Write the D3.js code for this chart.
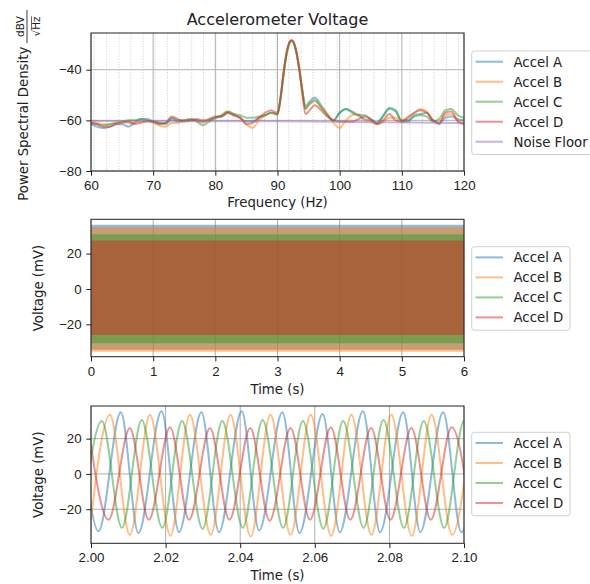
<!DOCTYPE html>
<html>
<head>
<meta charset="utf-8">
<title>Accelerometer Voltage</title>
<script src="https://d3js.org/d3.v7.min.js"></script>
<style>
    body { margin: 0; background: #fff; }
    svg { font-family: "DejaVu Sans", sans-serif; }
    .tick text { font-size: 13.3px; fill: #222; }
    .tick line { stroke: #222; }
    .lbl { font-size: 13.3px; fill: #222; }
</style>
</head>
<body>
<svg id="chart" width="590" height="584"></svg>
<script>
// ---- data ----
var names = ["Accel A", "Accel B", "Accel C", "Accel D"];
var colors = ["#1f77b4", "#ff7f0e", "#2ca02c", "#d62728"];
var floorColor = "#9467bd";

// panel 1: power spectral density (dBV/sqrt(Hz))
var freqs = [60,61,62,63,64,65,66,67,68,69,70,71,72,73,74,75,76,77,78,79,80,81,82,83,84,85,86,87,88,89,
    90,90.5,91,91.5,92,92.3,92.6,93,93.5,94,94.5,
    95,96,97,98,99,100,101,102,103,104,105,106,107,108,109,110,111,112,113,114,115,116,117,118,119,120];
var psdA = [-61.5,-62.5,-63,-62.5,-61.5,-61.5,-62.5,-61,-59.5,-59.5,
    -60.5,-61,-61.5,-59.5,-60.5,-60,-60,-60,-60.5,-60,
    -59,-58.5,-57,-58,-59,-60.5,-60.5,-59,-58,-57,
    -57.5,-51,-41,-33,-29,-28.5,-29.3,-32.5,-39.5,-48,-54.5,
    -53,-51,-54,-57.5,-60,-57,-55.5,-56.5,-58,-59.5,-60,-61,-58,-55,-56,-60.5,-60.5,-58,-57.5,-57,-60,-61.5,-59,-58.5,-59.5,-60];
var psdB = [-60.5,-61,-61.5,-61.5,-61,-60.5,-61,-61,-60.5,-60,
    -61,-62,-62.5,-61,-61,-60,-59.5,-60,-61,-59.5,
    -59,-58,-56.5,-57.5,-59,-61.5,-63,-60,-58,-57,
    -57.5,-51,-41,-33,-29,-28.5,-29.3,-32.5,-39.5,-48.5,-55.5,
    -54,-52.5,-54.5,-57.5,-61,-63,-60,-58,-57.5,-60,-60.5,-61.5,-60.5,-59,-59,-60,-58.5,-57,-55.5,-56.5,-60,-61,-58,-57.5,-60,-61];
var psdC = [-61,-61.5,-62,-61.5,-61,-60.5,-60,-60,-59.5,-60,
    -60.5,-61,-61,-59,-60,-60,-59.5,-60.5,-62,-60.5,
    -59,-58,-56.5,-57.5,-58,-59,-59,-58.5,-58,-57,
    -57.8,-51.5,-41.5,-33.5,-29.2,-28.7,-29.5,-32.8,-40,-48.5,-55.5,
    -54,-52,-55,-58,-60,-57,-55.5,-57,-58,-58,-59.5,-61,-58.5,-55.5,-56.5,-60,-60,-58.5,-58,-58.5,-60.5,-59.5,-56,-55.5,-58,-59];
var psdD = [-61,-61.5,-62.5,-62.5,-61.5,-61,-60.5,-61.5,-61,-60.5,
    -60.5,-61.5,-61,-58.5,-59.5,-60.5,-60,-59.5,-60,-59.5,
    -58.5,-58.5,-57,-58,-59,-61.5,-61,-59,-57,-56,
    -57.3,-50.5,-40.5,-32.8,-28.8,-28.3,-29.1,-32.5,-39.8,-49.5,-57.5,
    -56.5,-54,-56,-58.5,-60,-60.5,-60.5,-60.5,-59.5,-58.5,-59.5,-61.5,-60,-57.5,-60,-60.5,-59,-57,-56,-57,-60,-61,-57,-56.5,-60.5,-61.5];
var floorFreqs = [60, 75, 90, 105, 120];
var floorPsd = [-60.3, -60.4, -60.4, -60.7, -61.0];
var freqTicks = [60, 70, 80, 90, 100, 110, 120];
var psdTicks = [-80, -60, -40];
var binGrid = [60.5, 62.5, 64.5, 66.4, 68.4, 70.3, 72.3, 74.2, 76.2, 78.1, 80.1, 82.0, 84.0, 86.0, 87.9,
    89.8, 91.8, 93.8, 95.7, 97.7, 99.6, 101.6, 103.5, 105.5, 107.4, 109.4, 111.3, 113.3, 115.2, 117.2, 119.1];

// panel 2: full 6 s record, drawn as the envelope each trace fills
var spanTimes = [0, 6];
var envMin = [-34.3, -35.5, -30.7, -26.0];
var envMax = [36.3, 35.0, 31.0, 27.4];
var timeTicks = [0, 1, 2, 3, 4, 5, 6];
var voltTicks = [-20, 0, 20];

// panel 3: zoom 2.00 - 2.10 s, peaks and troughs of each trace (s, mV)
var tA = [1.9971,2.0020,2.0080,2.0127,2.0189,2.0236,2.0296,2.0343,2.0404,2.0451,2.0513,2.0559,2.0621,2.0667,2.0729,2.0775,2.0837,2.0883,2.0944,2.0993,2.1048];
var vA = [35,-32.5,35,-33.5,35.5,-33,35,-33,35.5,-32,35,-33.5,34,-33,35.5,-33,35,-33,35,-33,35];
var tB = [1.9995,2.0051,2.0104,2.0158,2.0213,2.0265,2.0321,2.0374,2.0428,2.0481,2.0535,2.0589,2.0644,2.0698,2.0752,2.0805,2.0860,2.0913,2.0968,2.1021];
var vB = [-34.5,33.5,-34.5,33.5,-35,33.5,-34.5,33.5,-35.5,33.5,-34.5,33.5,-35,33.5,-34.5,33.5,-35,33.5,-34.5,33.5];
var tC = [1.9975,2.0029,2.0083,2.0136,2.0191,2.0244,2.0299,2.0352,2.0407,2.0460,2.0515,2.0568,2.0623,2.0676,2.0731,2.0784,2.0839,2.0892,2.0947,2.1000,2.1054];
var vC = [-30.5,30,-30.5,30.5,-30.5,30,-31,30,-30.5,30.5,-30.5,30,-31,30,-30.5,30.5,-30.5,30,-30.5,30,-30.5];
var tD = [1.9993,2.0047,2.0104,2.0155,2.0212,2.0263,2.0319,2.0371,2.0427,2.0479,2.0535,2.0587,2.0643,2.0695,2.0751,2.0803,2.0859,2.0911,2.0967,2.1019];
var vD = [26,-26,26,-26,26.5,-26,26,-26,26,-26.5,26,-26,26.5,-26,26,-26,26,-26,26.5,-26];
var zoomTicks = [2.00, 2.02, 2.04, 2.06, 2.08, 2.10];

// ---- layout ----
var svg = d3.select("#chart");
var left = 91, right = 464;
var tickLen = 4.7;

function frame(g, x, y, xTicks, yTicks, gridX, gridY) {
    if (gridX) g.append("g").selectAll("line").data(xTicks).join("line")
        .attr("x1", x).attr("x2", x).attr("y1", y.range()[1]).attr("y2", y.range()[0])
        .attr("stroke", "#b0b0b0").attr("stroke-width", 1);
    if (gridY) g.append("g").selectAll("line").data(yTicks).join("line")
        .attr("y1", y).attr("y2", y).attr("x1", x.range()[0]).attr("x2", x.range()[1])
        .attr("stroke", "#b0b0b0").attr("stroke-width", 1);
}

function axes(g, x, y, xTicks, yTicks, xFmt) {
    var xa = g.append("g").attr("transform", "translate(0," + y.range()[0] + ")")
        .call(d3.axisBottom(x).tickValues(xTicks).tickFormat(xFmt).tickSize(tickLen).tickPadding(4.7).tickSizeOuter(0));
    var ya = g.append("g").attr("transform", "translate(" + x.range()[0] + ",0)")
        .call(d3.axisLeft(y).tickValues(yTicks).tickFormat(d3.format("d")).tickSize(tickLen).tickPadding(4.7).tickSizeOuter(0));
    xa.select(".domain").remove();
    ya.select(".domain").remove();
    g.selectAll(".tick text").attr("font-family", null).attr("font-size", null);
    g.append("rect")
        .attr("x", x.range()[0]).attr("y", y.range()[1])
        .attr("width", x.range()[1] - x.range()[0]).attr("height", y.range()[0] - y.range()[1])
        .attr("fill", "none").attr("stroke", "#222").attr("stroke-width", 1);
}

function legend(top, labels, cols, boxW) {
    var g = svg.append("g");
    g.append("rect").attr("x", 471.7).attr("y", top).attr("rx", 2.7)
        .attr("width", boxW).attr("height", labels.length * 20 + 3.5)
        .attr("fill", "#fff").attr("fill-opacity", 0.8).attr("stroke", "#d0d0d0");
    labels.forEach(function(name, i) {
        var cy = top + 10.7 + i * 20;
        g.append("line").attr("x1", 475.5).attr("x2", 503).attr("y1", cy).attr("y2", cy)
            .attr("stroke", cols[i]).attr("stroke-width", 2).attr("stroke-opacity", 0.5);
        g.append("text").attr("class", "lbl").attr("x", 513.5).attr("y", cy + 4.8).text(name);
    });
}

function clip(id, x, y) {
    svg.append("clipPath").attr("id", id).append("rect")
        .attr("x", x.range()[0]).attr("y", y.range()[1])
        .attr("width", x.range()[1] - x.range()[0]).attr("height", y.range()[0] - y.range()[1]);
}

// ---- panel 1 ----
var x1 = d3.scaleLinear().domain([60, 120]).range([left, right]);
var y1 = d3.scaleLinear().domain([-80, -25.5]).range([171, 33]);
var p1 = svg.append("g");
p1.append("g").selectAll("line").data(binGrid).join("line")
    .attr("x1", x1).attr("x2", x1).attr("y1", 33).attr("y2", 171)
    .attr("stroke", "#c8c8c8").attr("stroke-width", 0.9).attr("stroke-dasharray", "1,1.6");
frame(p1, x1, y1, freqTicks, psdTicks, true, true);
clip("c1", x1, y1);
var psdLine = d3.line().x(function(d) { return x1(d[0]); }).y(function(d) { return y1(d[1]); })
    .curve(d3.curveMonotoneX);
var psd = [psdA, psdB, psdC, psdD];
psd.forEach(function(vals, i) {
    p1.append("path").attr("clip-path", "url(#c1)")
        .attr("d", psdLine(d3.zip(freqs, vals)))
        .attr("fill", "none").attr("stroke", colors[i]).attr("stroke-width", 2).attr("stroke-opacity", 0.5);
});
p1.append("path").attr("clip-path", "url(#c1)")
    .attr("d", psdLine(d3.zip(floorFreqs, floorPsd)))
    .attr("fill", "none").attr("stroke", floorColor).attr("stroke-width", 2).attr("stroke-opacity", 0.5);
axes(p1, x1, y1, freqTicks, psdTicks, d3.format("d"));
svg.append("text").attr("x", (left + right) / 2).attr("y", 25).attr("text-anchor", "middle")
    .attr("font-size", 16).attr("fill", "#222").text("Accelerometer Voltage");
svg.append("text").attr("class", "lbl").attr("x", (left + right) / 2).attr("y", 207)
    .attr("text-anchor", "middle").text("Frequency (Hz)");

// y label with the dBV / sqrt(Hz) fraction
var yl = svg.append("g").attr("transform", "translate(28.3,102) rotate(-90)");
yl.append("text").attr("class", "lbl").attr("x", 55.3).attr("y", 0).attr("text-anchor", "end")
    .text("Power Spectral Density");
yl.append("line").attr("x1", 59).attr("x2", 92).attr("y1", -1.3).attr("y2", -1.3)
    .attr("stroke", "#222").attr("stroke-width", 0.9);
yl.append("text").attr("x", 75.5).attr("y", -4.3).attr("text-anchor", "middle")
    .attr("font-size", 10.5).attr("fill", "#222").text("dBV");
var hz = yl.append("text").attr("y", 12.2).attr("font-size", 10.5).attr("fill", "#222").text("Hz");
var rad = yl.append("text").attr("y", 12.2).attr("font-size", 10.5).attr("fill", "#222")
    .attr("text-anchor", "end").text("\u221A");
var hzW = hz.node().getComputedTextLength(), radW = rad.node().getComputedTextLength();
var u0 = 75.5 - (hzW + radW) / 2 + radW;
hz.attr("x", u0);
rad.attr("x", u0);
yl.append("line").attr("x1", u0).attr("x2", u0 + hzW).attr("y1", 3.2).attr("y2", 3.2)
    .attr("stroke", "#222").attr("stroke-width", 0.7);

legend(51, names.concat(["Noise Floor"]), colors.concat([floorColor]), 125);

// ---- panel 2 ----
var x2 = d3.scaleLinear().domain([0, 6]).range([left, right]);
var y2 = d3.scaleLinear().domain([-38.3, 39.4]).range([356.7, 219.3]);
var p2 = svg.append("g");
frame(p2, x2, y2, timeTicks, voltTicks, true, false);
var band = d3.area().x(function(d) { return x2(d); });
names.forEach(function(n, i) {
    p2.append("path")
        .attr("d", band.y0(y2(envMin[i])).y1(y2(envMax[i]))(spanTimes))
        .attr("fill", colors[i]).attr("fill-opacity", 0.5);
});
axes(p2, x2, y2, timeTicks, voltTicks, d3.format("d"));
svg.append("text").attr("class", "lbl").attr("x", (left + right) / 2).attr("y", 393.5)
    .attr("text-anchor", "middle").text("Time (s)");
svg.append("text").attr("class", "lbl").attr("transform", "translate(43," + (219.3 + 356.7) / 2 + ") rotate(-90)")
    .attr("text-anchor", "middle").text("Voltage (mV)");
legend(246.7, names, colors, 98.3);

// ---- panel 3 ----
var x3 = d3.scaleLinear().domain([2.0, 2.1]).range([left, right]);
var y3 = d3.scaleLinear().domain([-39.3, 38.5]).range([543.3, 406]);
var p3 = svg.append("g");
frame(p3, x3, y3, zoomTicks, voltTicks, true, true);
clip("c3", x3, y3);
var waveLine = d3.line().x(function(d) { return x3(d[0]); }).y(function(d) { return y3(d[1]); })
    .curve(d3.curveMonotoneX);
[[tA, vA], [tB, vB], [tC, vC], [tD, vD]].forEach(function(s, i) {
    p3.append("path").attr("clip-path", "url(#c3)")
        .attr("d", waveLine(d3.zip(s[0], s[1])))
        .attr("fill", "none").attr("stroke", colors[i]).attr("stroke-width", 2).attr("stroke-opacity", 0.5);
});
axes(p3, x3, y3, zoomTicks, voltTicks, d3.format(".2f"));
svg.append("text").attr("class", "lbl").attr("x", (left + right) / 2).attr("y", 580)
    .attr("text-anchor", "middle").text("Time (s)");
svg.append("text").attr("class", "lbl").attr("transform", "translate(43," + (406 + 543.3) / 2 + ") rotate(-90)")
    .attr("text-anchor", "middle").text("Voltage (mV)");
legend(432.3, names, colors, 98.3);
</script>
</body>
</html>
